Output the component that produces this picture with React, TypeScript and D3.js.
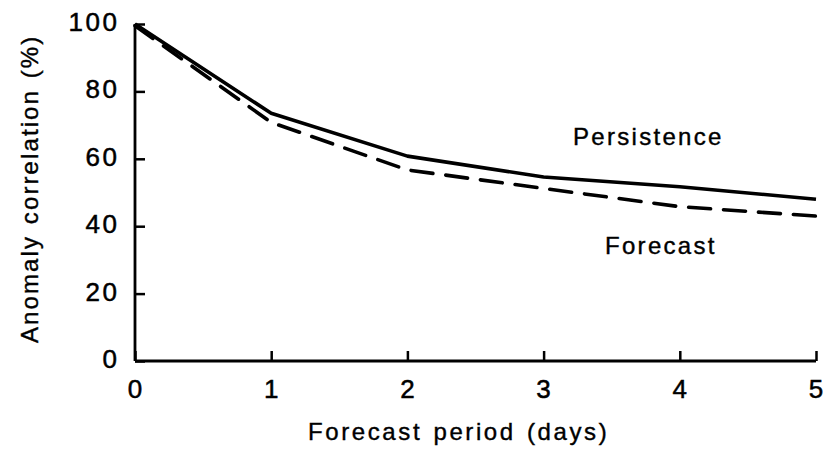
import { useEffect, useRef } from 'react';
import * as d3 from 'd3';

const days = [0, 1, 2, 3, 4, 5];
const persistence = [100, 73.5, 60.8, 54.6, 51.7, 48];
const forecast = [99.5, 70.8, 56.7, 51.2, 45.8, 43];
const yTicks = [0, 20, 40, 60, 80, 100];
const seriesLabels = ['Persistence', 'Forecast'];

const App = () => {
  const ref = useRef<SVGSVGElement>(null);

  useEffect(() => {
    const width = 826,
      height = 453;
    const margin = { top: 24, right: 10, bottom: 92, left: 135 };

    const svg = d3.select(ref.current).attr('width', width).attr('height', height);
    svg.selectAll('*').remove();

    const x = d3.scaleLinear().domain([0, 5]).range([margin.left, 816]);
    const y = d3.scaleLinear().domain([0, 100]).range([361, margin.top]);
    const font = '"Liberation Sans", Arial, sans-serif';
    const tickLs = 2.5;

    // y axis, ticks pointing inward
    const yAxis = svg
      .append('g')
      .attr('transform', `translate(${x(0)}, 0)`)
      .call(d3.axisRight(y).tickValues(yTicks).tickSize(10).tickFormat(() => ''));
    yAxis.select('.domain').attr('stroke-width', 2.8).attr('d', `M0,${y(0)}V${y(100)}`);
    yAxis.selectAll('.tick line').attr('stroke-width', 2.5);

    svg
      .append('g')
      .selectAll('text')
      .data(yTicks)
      .join('text')
      .attr('x', 117 + tickLs)
      .attr('y', (d) => y(d) + 7)
      .attr('text-anchor', 'end')
      .attr('font-family', font)
      .attr('font-size', 26)
      .attr('letter-spacing', tickLs)
      .attr('stroke', '#000')
      .attr('stroke-width', 0.5)
      .text((d) => d);

    // x axis, ticks pointing up
    const xAxis = svg
      .append('g')
      .attr('transform', `translate(0, ${y(0)})`)
      .call(d3.axisTop(x).tickValues(days).tickSize(10).tickFormat(() => ''));
    xAxis.select('.domain').attr('stroke-width', 2.8).attr('d', `M${x(0)},0H${x(5)}`);
    xAxis.selectAll('.tick line').attr('stroke-width', 2.5);

    svg
      .append('g')
      .selectAll('text')
      .data(days)
      .join('text')
      .attr('x', (d) => x(d) + tickLs / 2)
      .attr('y', 398)
      .attr('text-anchor', 'middle')
      .attr('font-family', font)
      .attr('font-size', 26)
      .attr('letter-spacing', tickLs)
      .attr('stroke', '#000')
      .attr('stroke-width', 0.5)
      .text((d) => d);

    const line = d3
      .line<number>()
      .x((d, i) => x(days[i]))
      .y((d) => y(d));

    svg
      .append('path')
      .datum(persistence)
      .attr('fill', 'none')
      .attr('stroke', '#000')
      .attr('stroke-width', 3.6)
      .attr('stroke-linejoin', 'round')
      .attr('d', line);

    svg
      .append('path')
      .datum(forecast)
      .attr('fill', 'none')
      .attr('stroke', '#000')
      .attr('stroke-width', 3.6)
      .attr('stroke-dasharray', '22,13')
      .attr('stroke-linecap', 'round')
      .attr('d', line);

    const label = (t: string, px: number, py: number) =>
      svg
        .append('text')
        .attr('x', px)
        .attr('y', py)
        .attr('font-family', font)
        .attr('font-size', 24)
        .attr('letter-spacing', 2.3)
        .attr('stroke', '#000')
        .attr('stroke-width', 0.4)
        .text(t);

    label(seriesLabels[0], 573, 145);
    label(seriesLabels[1], 605, 254);

    svg
      .append('text')
      .attr('x', 308)
      .attr('y', 440)
      .attr('font-family', font)
      .attr('font-size', 24)
      .attr('letter-spacing', 2.6)
      .attr('word-spacing', 2)
      .attr('stroke', '#000')
      .attr('stroke-width', 0.4)
      .text('Forecast period (days)');

    svg
      .append('text')
      .attr('transform', `translate(38, 343) rotate(-90)`)
      .attr('font-family', font)
      .attr('font-size', 24)
      .attr('letter-spacing', 2.1)
      .attr('word-spacing', 2)
      .attr('stroke', '#000')
      .attr('stroke-width', 0.4)
      .text('Anomaly correlation (%)');
  }, []);

  return <svg ref={ref} style={{ position: 'absolute', left: 0, top: 0 }} />;
};

export default App;
